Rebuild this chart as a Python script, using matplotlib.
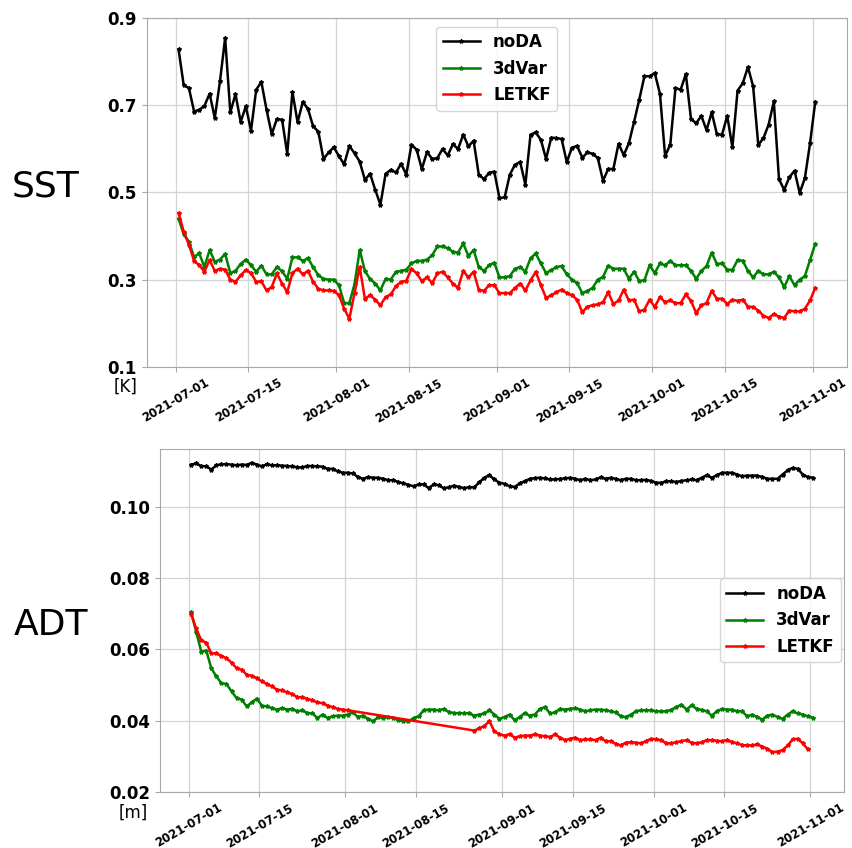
import numpy as np
import pandas as pd
import matplotlib
matplotlib.use("Agg")
import matplotlib.pyplot as plt
import matplotlib.dates as mdates

# daily analysis times
dates = pd.date_range("2021-07-01 12:00", periods=124, freq="D")

# ---- SST RMSE [K] ----
sst_noda = [
    0.829, 0.746, 0.740, 0.686, 0.690, 0.699, 0.727, 0.671, 0.755, 0.855,
    0.684, 0.726, 0.662, 0.698, 0.642, 0.736, 0.754, 0.690, 0.634, 0.669,
    0.667, 0.589, 0.731, 0.661, 0.708, 0.692, 0.652, 0.640, 0.577, 0.592,
    0.604, 0.583, 0.565, 0.607, 0.590, 0.571, 0.529, 0.543, 0.506, 0.472,
    0.543, 0.552, 0.546, 0.566, 0.541, 0.610, 0.598, 0.554, 0.593, 0.577,
    0.579, 0.600, 0.585, 0.611, 0.600, 0.633, 0.606, 0.619, 0.541, 0.531,
    0.545, 0.548, 0.487, 0.489, 0.541, 0.564, 0.570, 0.518, 0.633, 0.638,
    0.621, 0.577, 0.626, 0.625, 0.623, 0.570, 0.603, 0.607, 0.580, 0.592,
    0.589, 0.579, 0.527, 0.554, 0.554, 0.612, 0.586, 0.613, 0.662, 0.713,
    0.767, 0.767, 0.774, 0.727, 0.584, 0.610, 0.740, 0.736, 0.772, 0.669,
    0.659, 0.676, 0.643, 0.684, 0.634, 0.633, 0.676, 0.604, 0.734, 0.751,
    0.788, 0.744, 0.609, 0.625, 0.656, 0.709, 0.531, 0.506, 0.535, 0.550,
    0.499, 0.533, 0.613, 0.708,
]
sst_3dvar = [
    0.440, 0.404, 0.387, 0.352, 0.360, 0.329, 0.368, 0.341, 0.346, 0.359,
    0.315, 0.320, 0.336, 0.346, 0.333, 0.318, 0.332, 0.312, 0.312, 0.329,
    0.319, 0.302, 0.351, 0.351, 0.343, 0.349, 0.329, 0.310, 0.302, 0.300,
    0.300, 0.287, 0.246, 0.246, 0.290, 0.368, 0.320, 0.301, 0.291, 0.275,
    0.302, 0.300, 0.318, 0.320, 0.323, 0.337, 0.343, 0.343, 0.346, 0.356,
    0.376, 0.376, 0.372, 0.364, 0.362, 0.383, 0.354, 0.368, 0.329, 0.320,
    0.333, 0.339, 0.305, 0.305, 0.308, 0.325, 0.329, 0.318, 0.349, 0.360,
    0.337, 0.315, 0.322, 0.329, 0.331, 0.312, 0.300, 0.292, 0.269, 0.274,
    0.281, 0.300, 0.306, 0.332, 0.325, 0.325, 0.325, 0.302, 0.318, 0.297,
    0.298, 0.333, 0.315, 0.337, 0.333, 0.343, 0.333, 0.333, 0.333, 0.320,
    0.302, 0.320, 0.331, 0.362, 0.336, 0.337, 0.323, 0.322, 0.345, 0.343,
    0.320, 0.305, 0.320, 0.312, 0.312, 0.318, 0.305, 0.283, 0.308, 0.287,
    0.300, 0.308, 0.345, 0.382,
]
sst_letkf = [
    0.453, 0.410, 0.380, 0.343, 0.333, 0.318, 0.345, 0.320, 0.325, 0.323,
    0.300, 0.295, 0.310, 0.322, 0.315, 0.295, 0.296, 0.275, 0.283, 0.314,
    0.291, 0.271, 0.315, 0.325, 0.312, 0.320, 0.295, 0.279, 0.275, 0.275,
    0.274, 0.264, 0.233, 0.210, 0.269, 0.329, 0.256, 0.264, 0.254, 0.241,
    0.260, 0.266, 0.285, 0.295, 0.297, 0.325, 0.314, 0.297, 0.305, 0.292,
    0.314, 0.318, 0.305, 0.291, 0.281, 0.320, 0.305, 0.318, 0.277, 0.274,
    0.287, 0.287, 0.269, 0.269, 0.269, 0.281, 0.291, 0.275, 0.298, 0.318,
    0.287, 0.258, 0.264, 0.271, 0.277, 0.269, 0.264, 0.254, 0.225, 0.238,
    0.241, 0.243, 0.248, 0.271, 0.244, 0.252, 0.277, 0.252, 0.254, 0.227,
    0.231, 0.254, 0.237, 0.260, 0.248, 0.252, 0.246, 0.246, 0.266, 0.251,
    0.223, 0.241, 0.246, 0.274, 0.256, 0.256, 0.244, 0.254, 0.251, 0.254,
    0.238, 0.237, 0.229, 0.217, 0.212, 0.221, 0.215, 0.212, 0.229, 0.227,
    0.227, 0.233, 0.252, 0.281,
]

# ---- ADT RMSE [m] ----
adt_noda = [
    0.1120, 0.1123, 0.1116, 0.1115, 0.1106, 0.1118, 0.1121, 0.1121, 0.1120, 0.1118,
    0.1120, 0.1119, 0.1125, 0.1120, 0.1115, 0.1121, 0.1118, 0.1118, 0.1117, 0.1116,
    0.1115, 0.1112, 0.1112, 0.1116, 0.1116, 0.1115, 0.1114, 0.1108, 0.1108, 0.1101,
    0.1097, 0.1097, 0.1095, 0.1085, 0.1080, 0.1085, 0.1083, 0.1083, 0.1080, 0.1076,
    0.1076, 0.1071, 0.1067, 0.1063, 0.1059, 0.1064, 0.1064, 0.1054, 0.1064, 0.1062,
    0.1053, 0.1056, 0.1061, 0.1057, 0.1054, 0.1056, 0.1056, 0.1070, 0.1083, 0.1090,
    0.1078, 0.1069, 0.1066, 0.1059, 0.1057, 0.1067, 0.1073, 0.1080, 0.1082, 0.1083,
    0.1081, 0.1078, 0.1078, 0.1080, 0.1081, 0.1083, 0.1080, 0.1076, 0.1080, 0.1076,
    0.1078, 0.1084, 0.1080, 0.1083, 0.1080, 0.1076, 0.1080, 0.1080, 0.1076, 0.1076,
    0.1077, 0.1074, 0.1069, 0.1069, 0.1073, 0.1073, 0.1071, 0.1074, 0.1076, 0.1078,
    0.1076, 0.1083, 0.1090, 0.1083, 0.1090, 0.1097, 0.1097, 0.1097, 0.1092, 0.1087,
    0.1089, 0.1089, 0.1089, 0.1085, 0.1080, 0.1080, 0.1080, 0.1092, 0.1104, 0.1111,
    0.1108, 0.1092, 0.1085, 0.1083,
]
adt_3dvar = [
    0.0705, 0.0650, 0.0594, 0.0597, 0.0547, 0.0524, 0.0505, 0.0503, 0.0482, 0.0463,
    0.0459, 0.0440, 0.0451, 0.0462, 0.0442, 0.0440, 0.0435, 0.0431, 0.0435, 0.0431,
    0.0433, 0.0426, 0.0429, 0.0421, 0.0420, 0.0407, 0.0417, 0.0407, 0.0412, 0.0414,
    0.0414, 0.0417, 0.0423, 0.0410, 0.0414, 0.0405, 0.0398, 0.0410, 0.0407, 0.0410,
    0.0407, 0.0401, 0.0398, 0.0398, 0.0407, 0.0412, 0.0429, 0.0431, 0.0431, 0.0429,
    0.0433, 0.0424, 0.0421, 0.0421, 0.0421, 0.0421, 0.0414, 0.0417, 0.0420, 0.0429,
    0.0417, 0.0405, 0.0410, 0.0417, 0.0401, 0.0410, 0.0421, 0.0414, 0.0417, 0.0433,
    0.0438, 0.0420, 0.0423, 0.0433, 0.0431, 0.0433, 0.0435, 0.0431, 0.0426, 0.0429,
    0.0431, 0.0431, 0.0429, 0.0426, 0.0423, 0.0412, 0.0410, 0.0417, 0.0426, 0.0429,
    0.0429, 0.0429, 0.0426, 0.0426, 0.0426, 0.0431, 0.0438, 0.0445, 0.0431, 0.0443,
    0.0433, 0.0430, 0.0426, 0.0414, 0.0426, 0.0433, 0.0431, 0.0431, 0.0426, 0.0426,
    0.0412, 0.0417, 0.0410, 0.0403, 0.0414, 0.0417, 0.0410, 0.0405, 0.0417, 0.0426,
    0.0420, 0.0417, 0.0412, 0.0408,
]
# LETKF ADT: no analyses between early and late August (nan = missing)
nan = np.nan
adt_letkf = [
    0.0700, 0.0659, 0.0626, 0.0619, 0.0589, 0.0589, 0.0582, 0.0575, 0.0563, 0.0547,
    0.0543, 0.0529, 0.0526, 0.0519, 0.0510, 0.0503, 0.0496, 0.0487, 0.0485, 0.0479,
    0.0475, 0.0466, 0.0466, 0.0461, 0.0457, 0.0451, 0.0449, 0.0442, 0.0438, 0.0433,
    0.0431, 0.0429, nan, nan, nan, nan, nan, nan, nan, nan,
    nan, nan, nan, nan, nan, nan, nan, nan, nan, nan,
    nan, nan, nan, nan, nan, nan, 0.0372, 0.0378, 0.0385, 0.0398,
    0.0370, 0.0361, 0.0358, 0.0362, 0.0352, 0.0356, 0.0358, 0.0358, 0.0361, 0.0358,
    0.0356, 0.0354, 0.0361, 0.0352, 0.0345, 0.0349, 0.0352, 0.0345, 0.0347, 0.0347,
    0.0345, 0.0352, 0.0342, 0.0342, 0.0335, 0.0330, 0.0338, 0.0339, 0.0338, 0.0336,
    0.0342, 0.0349, 0.0347, 0.0345, 0.0336, 0.0336, 0.0339, 0.0342, 0.0345, 0.0338,
    0.0336, 0.0339, 0.0345, 0.0345, 0.0343, 0.0342, 0.0345, 0.0340, 0.0336, 0.0331,
    0.0330, 0.0330, 0.0333, 0.0327, 0.0321, 0.0311, 0.0313, 0.0317, 0.0330, 0.0347,
    0.0349, 0.0336, 0.0319,
]

labels = ["noDA", "3dVar", "LETKF"]
colors = ["black", "green", "red"]

fig = plt.figure(figsize=(8.52, 8.48), dpi=100)
ax1 = fig.add_axes([0.1722, 0.5676, 0.8220, 0.4108])
ax2 = fig.add_axes([0.1878, 0.0664, 0.8028, 0.4038])

line_kw = dict(lw=1.8, marker="*", ms=3.0)

for y, lab, c in zip([sst_noda, sst_3dvar, sst_letkf], labels, colors):
    ax1.plot(dates[:len(y)], y, color=c, label=lab, **line_kw)

for y, lab, c in zip([adt_noda, adt_3dvar, adt_letkf], labels, colors):
    arr = np.asarray(y, dtype=float)
    ok = ~np.isnan(arr)
    ax2.plot(dates[:len(arr)][ok], arr[ok], color=c, label=lab, **line_kw)

ax1.set_ylim(0.1, 0.9)
ax1.set_yticks([0.1, 0.3, 0.5, 0.7, 0.9])
ax2.set_ylim(0.02, 0.1163)
ax2.set_yticks([0.02, 0.04, 0.06, 0.08, 0.10])
ax2.yaxis.set_major_formatter(matplotlib.ticker.FormatStrFormatter("%.2f"))

for ax in (ax1, ax2):
    ax.xaxis.set_major_locator(mdates.DayLocator(bymonthday=[1, 15]))
    ax.xaxis.set_major_formatter(mdates.DateFormatter("%Y-%m-%d"))
    ax.grid(True, color="#d4d4d4", lw=0.9)
    ax.set_axisbelow(True)
    for s in ax.spines.values():
        s.set_color("#a8a8a8")
    ax.tick_params(axis="both", colors="#a8a8a8", labelcolor="black")
    for t in ax.get_yticklabels():
        t.set_fontsize(12)
        t.set_fontweight("bold")
    for t in ax.get_xticklabels():
        t.set_fontsize(8.5)
        t.set_fontweight("bold")
        t.set_rotation(30)
        t.set_ha("center")

leg_kw = dict(prop={"weight": "bold", "size": 12}, handlelength=2.2, fancybox=True)
ax1.legend(loc="upper center", **leg_kw)
ax2.legend(loc="center right", borderaxespad=0.2, **leg_kw)

fig.text(0.053, 0.7795, "SST", fontsize=26, ha="center", va="center")
fig.text(0.0599, 0.263, "ADT", fontsize=26, ha="center", va="center")
fig.text(0.147, 0.5435, "[K]", fontsize=12, ha="center", va="center")
fig.text(0.156, 0.041, "[m]", fontsize=12, ha="center", va="center")

fig.savefig("out.png", dpi=100)
